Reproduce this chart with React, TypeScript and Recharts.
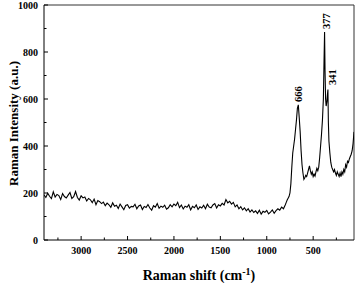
import React from 'react';
import { LineChart, Line, XAxis, YAxis, ReferenceLine, ReferenceDot, Label } from 'recharts';

const shifts = [
  3400, 3380, 3360, 3340, 3320, 3300, 3280, 3260, 3240, 3220, 3200, 3180, 3160, 3140, 3120, 3100,
  3080, 3060, 3040, 3020, 3000, 2980, 2960, 2940, 2920, 2900, 2880, 2860, 2840, 2820, 2800, 2780,
  2760, 2740, 2720, 2700, 2680, 2660, 2640, 2620, 2600, 2580, 2560, 2540, 2520, 2500, 2480, 2460,
  2440, 2420, 2400, 2380, 2360, 2340, 2320, 2300, 2280, 2260, 2240, 2220, 2200, 2180, 2160, 2140,
  2120, 2100, 2080, 2060, 2040, 2020, 2000, 1980, 1960, 1940, 1920, 1900, 1880, 1860, 1840, 1820,
  1800, 1780, 1760, 1740, 1720, 1700, 1680, 1660, 1640, 1620, 1600, 1580, 1560, 1540, 1520, 1500,
  1480, 1460, 1440, 1420, 1400, 1380, 1360, 1340, 1320, 1300, 1280, 1260, 1240, 1220, 1200, 1180,
  1160, 1140, 1120, 1100, 1080, 1060, 1040, 1020, 1000, 980, 960, 940, 920, 900, 880, 860,
  840, 820, 800,
  790, 780, 770, 760, 750, 740, 730, 720, 710, 700, 690, 680, 670, 660, 650, 640,
  630, 620, 610, 600, 590, 580, 570, 560, 550, 540, 530, 520, 510, 500, 490, 480,
  470, 460, 450, 440, 430, 420, 410, 400, 390, 383, 377, 372, 366, 360, 352, 346,
  341, 336, 330, 320, 310, 300, 290, 280, 270, 260, 250, 240, 230, 220, 210, 200,
  190, 180, 170, 160, 150, 140, 130, 120, 110, 100, 90, 80, 70, 60,
];

const intensities = [
  192, 181, 199, 186, 176, 205, 183, 194, 189, 172, 198, 185, 179, 191, 202, 177,
  184, 206, 181, 170, 188, 179, 183, 166, 177, 171, 159, 174, 150, 168, 163, 155,
  161, 146, 157, 150, 139, 158, 144, 148, 134, 153, 141, 129, 147, 150, 136, 143,
  141, 152, 133, 145, 149, 130, 143, 138, 151, 136, 127, 146, 140, 155, 135, 144,
  139, 148, 131, 137, 150, 141, 153, 146, 160, 138, 149, 132, 144, 139, 150, 128,
  143, 137, 149, 130, 141, 136, 148, 133, 152, 140, 137, 149, 155, 136, 150, 145,
  156, 149, 172, 158, 165, 153, 160, 141, 149, 133, 142, 128, 137, 124, 133, 119,
  128, 117, 124, 113, 127, 110, 122, 118, 126, 111, 119, 128, 114, 125, 133, 127,
  140, 133, 150,
  160, 170, 178, 185, 200, 240, 310, 370, 400, 430, 470, 510, 560, 575, 520, 460,
  380, 320, 285, 258, 265, 275, 270, 285, 300, 315, 295, 280, 290, 270, 280, 272,
  290, 305, 295, 310, 350, 400, 450, 510, 600, 760, 885, 720, 600, 570, 590, 620,
  640, 500, 420, 370, 330, 310, 300, 290, 300, 285, 275, 290, 280, 270, 285, 270,
  290, 280, 300, 290, 320, 310, 335, 330, 345, 355, 365, 380, 410, 460,
];

const xTicks = [3250, 3000, 2750, 2500, 2250, 2000, 1750, 1500, 1250, 1000, 750, 500, 250];
const yTicks = [0, 100, 200, 300, 400, 500, 600, 700, 800, 900, 1000];
const peakShifts = [666, 377, 341];
const peakValues = [575, 885, 640];
const peakLabels = ['666', '377', '341'];

const data = shifts.map((s, i) => ({ shift: s, intensity: intensities[i] }));

const FONT = '"Liberation Serif", "Times New Roman", serif';

const XTick = (props: any) => {
  const { x, y, payload } = props;
  const major = payload.value % 500 === 0;
  return (
    <g>
      <line x1={x} x2={x} y1={y} y2={y - (major ? 4 : 2.5)} stroke="#000" strokeWidth={1} />
      {major && (
        <text x={x} y={y + 14} textAnchor="middle" fontFamily={FONT} fontWeight="bold" fontSize={10} fill="#000">
          {payload.value}
        </text>
      )}
    </g>
  );
};

const YTick = (props: any) => {
  const { x, y, payload } = props;
  const major = payload.value % 200 === 0;
  return (
    <g>
      <line x1={x} x2={x + (major ? 4 : 2.5)} y1={y} y2={y} stroke="#000" strokeWidth={1} />
      {major && (
        <text x={x - 6} y={y} textAnchor="end" dominantBaseline="central" fontFamily={FONT} fontWeight="bold" fontSize={10} fill="#000">
          {payload.value}
        </text>
      )}
    </g>
  );
};

const peakOffsets = [
  { dx: 0.6, gap: 3 },
  { dx: 1.5, gap: 3 },
  { dx: 5, gap: 4.5 },
];

export default function App() {
  return (
    <div style={{ position: 'absolute', left: 0, top: 0, background: '#fff' }}>
      <LineChart width={357} height={283} data={data} margin={{ top: 5, right: 3, left: 0, bottom: 0 }}>
        <XAxis
          dataKey="shift"
          type="number"
          domain={[60, 3400]}
          reversed
          ticks={xTicks}
          tick={<XTick />}
          tickSize={0}
          tickMargin={0}
          tickLine={false}
          axisLine={{ stroke: '#000' }}
          height={43}
          interval={0}
          allowDataOverflow
        >
          <Label
            content={() => (
              <text x={199} y={280} textAnchor="middle" fontFamily={FONT} fontWeight="bold" fontSize={14} fill="#000">
                Raman shift (cm
                <tspan dy={-5} fontSize={10}>-1</tspan>
                <tspan dy={5} fontSize={14}>)</tspan>
              </text>
            )}
          />
        </XAxis>
        <YAxis
          type="number"
          domain={[0, 1000]}
          ticks={yTicks}
          tick={<YTick />}
          tickSize={0}
          tickMargin={0}
          tickLine={false}
          axisLine={{ stroke: '#000' }}
          width={44}
          interval={0}
          allowDataOverflow
        >
          <Label
            content={() => (
              <text
                transform="translate(18,123.5) rotate(-90)"
                textAnchor="middle"
                fontFamily={FONT}
                fontWeight="bold"
                fontSize={13}
                fill="#000"
              >
                Raman Intensity (a.u.)
              </text>
            )}
          />
        </YAxis>
        <ReferenceLine y={1000} stroke="#333" strokeWidth={1} />
        <ReferenceLine x={60} stroke="#333" strokeWidth={1} />
        <Line
          type="linear"
          dataKey="intensity"
          stroke="#000"
          strokeWidth={1.1}
          dot={false}
          isAnimationActive={false}
        />
        {peakShifts.map((s, i) => (
          <ReferenceDot
            key={peakLabels[i]}
            x={s}
            y={peakValues[i]}
            r={1}
            shape={(p: any) => (
              <text
                transform={`translate(${p.cx + peakOffsets[i].dx},${p.cy - peakOffsets[i].gap}) rotate(-90)`}
                textAnchor="start"
                dominantBaseline="central"
                fontFamily={FONT}
                fontWeight="bold"
                fontSize={10.5}
                fill="#000"
              >
                {peakLabels[i]}
              </text>
            )}
          />
        ))}
      </LineChart>
    </div>
  );
}
